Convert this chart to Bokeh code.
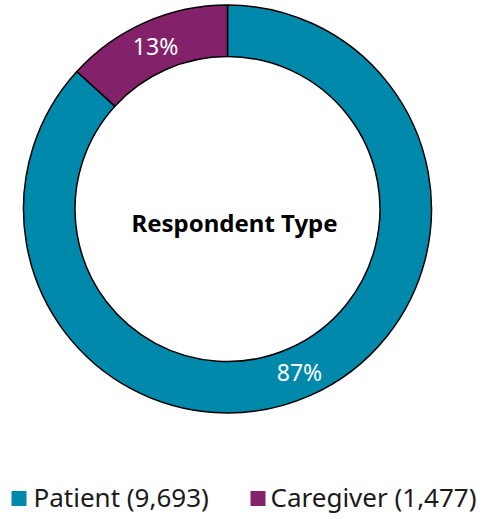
import math
from bokeh.plotting import figure
from bokeh.models import Range1d, ColumnDataSource
from bokeh.core.properties import value
from bokeh.embed import file_html
from bokeh.resources import INLINE

categories = ["Patient", "Caregiver"]
counts = [9693, 1477]
percent_labels = ["87%", "13%"]
colors = ["#0189AB", "#83216A"]
center_title = "Respondent Type"

W, H = 483, 519
p = figure(width=W, height=H, output_backend="svg", toolbar_location=None,
           x_range=Range1d(0, W), y_range=Range1d(0, H), min_border=0)
p.axis.visible = False
p.grid.visible = False
p.outline_line_color = None
p.background_fill_color = "white"
p.border_fill_color = "white"

cx, cy = 227, H - 208.5
r_out, r_in = 204, 152.5

total = sum(counts)
cg_frac = counts[1] / total
cg_start = math.pi / 2
cg_end = cg_start + 2 * math.pi * cg_frac
starts = [cg_end, cg_start]
ends = [math.pi / 2 + 2 * math.pi, cg_end]
rm = (r_out + r_in) / 2
lx, ly = [], []
for s, e in zip(starts, ends):
    m = (s + e) / 2
    lx.append(cx + rm * math.cos(m))
    ly.append(cy + rm * math.sin(m))

src = ColumnDataSource(dict(start=starts, end=ends, color=colors,
                            lx=lx, ly=ly, lab=percent_labels))
p.annular_wedge(x=cx, y=cy, inner_radius=r_in, outer_radius=r_out,
                start_angle="start", end_angle="end", fill_color="color",
                line_color="black", line_width=1.5, source=src)
p.text(x="lx", y="ly", text="lab", source=src, text_color="white",
       text_font=value("Noto Sans"), text_font_size="23px",
       text_align="center", text_baseline="middle")

p.text(x=[234], y=[H - 222], text=[center_title], text_font=value("Noto Sans"),
       text_font_style="bold", text_font_size="24px", text_color="black",
       text_align="center", text_baseline="middle")

leg_labels = [f"{c} ({n:,})" for c, n in zip(categories, counts)]
sq_x = [18.5, 257.5]
tx = [33, 270]
p.rect(x=sq_x, y=[H - 498] * 2, width=15, height=15, fill_color=colors, line_color=None)
p.text(x=tx, y=[H - 496] * 2, text=leg_labels, text_font=value("Noto Sans"),
       text_font_size="26px", text_color="#1a1a1a", text_align="left",
       text_baseline="middle")

open("out.html", "w").write(file_html(p, INLINE))
